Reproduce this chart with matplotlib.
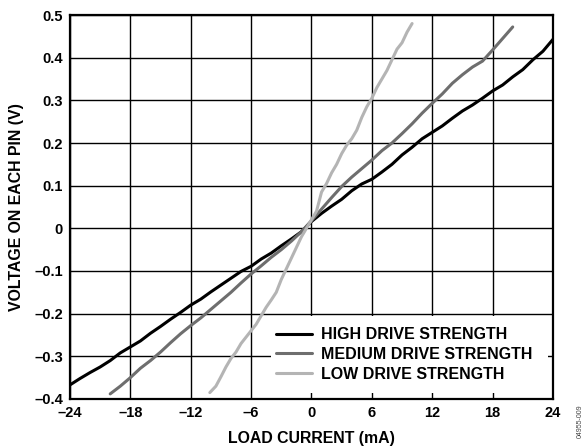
import numpy as np
import matplotlib
matplotlib.use("Agg")
import matplotlib.pyplot as plt
from matplotlib.patches import Rectangle

plt.rcParams['font.family'] = ['Liberation Sans', 'DejaVu Sans']
plt.rcParams['font.weight'] = 'bold'

# load current (mA) vs. pin voltage (V) for each drive strength
i_high = [-24, -23, -22, -21, -20, -19, -18, -17, -16, -15, -14, -13, -12, -11, -10, -9, -8, -7, -6,
          -5, -4, -3, -2, -1, 0, 1, 2, 3, 4, 5, 6, 7, 8, 9, 10, 11, 12, 13, 14, 15, 16, 17, 18,
          19, 20, 21, 22, 23, 24]
v_high = [-0.367, -0.352, -0.338, -0.325, -0.310, -0.292, -0.278, -0.264, -0.246, -0.230, -0.213,
          -0.197, -0.180, -0.166, -0.149, -0.133, -0.117, -0.101, -0.089, -0.072, -0.058, -0.041,
          -0.025, -0.008, 0.016, 0.035, 0.052, 0.068, 0.088, 0.104, 0.115, 0.132, 0.150, 0.172,
          0.190, 0.210, 0.225, 0.240, 0.258, 0.275, 0.289, 0.305, 0.322, 0.336, 0.355, 0.372,
          0.395, 0.415, 0.443]

i_med = [-20, -19, -18, -17, -16, -15, -14, -13, -12, -11, -10, -9, -8, -7, -6, -5, -4, -3, -2, -1,
         0, 1, 2, 3, 4, 5, 6, 7, 8, 9, 10, 11, 12, 13, 14, 15, 16, 17, 18, 19, 20]
v_med = [-0.388, -0.370, -0.350, -0.328, -0.310, -0.290, -0.268, -0.247, -0.228, -0.210, -0.190,
         -0.170, -0.150, -0.128, -0.107, -0.088, -0.068, -0.050, -0.030, -0.008, 0.018, 0.045,
         0.072, 0.098, 0.120, 0.140, 0.160, 0.182, 0.200, 0.222, 0.245, 0.270, 0.293, 0.315,
         0.340, 0.360, 0.378, 0.392, 0.418, 0.445, 0.472]

i_low = [-10.1, -9.5, -9, -8.5, -8, -7.5, -7, -6.5, -6, -5.5, -5, -4.5, -4, -3.5, -3, -2.5, -2,
         -1.5, -1, -0.5, 0, 0.5, 1, 1.5, 2, 2.5, 3, 3.5, 4, 4.5, 5, 5.5, 6, 6.5, 7, 7.5, 8, 8.5,
         9, 9.5, 10]
v_low = [-0.385, -0.370, -0.348, -0.325, -0.305, -0.290, -0.270, -0.255, -0.240, -0.225, -0.205,
         -0.185, -0.168, -0.150, -0.120, -0.095, -0.070, -0.045, -0.020, 0.000, 0.020, 0.040,
         0.085, 0.105, 0.130, 0.150, 0.175, 0.195, 0.210, 0.230, 0.260, 0.285, 0.305, 0.330,
         0.350, 0.370, 0.395, 0.420, 0.435, 0.460, 0.480]

labels = ['HIGH DRIVE STRENGTH', 'MEDIUM DRIVE STRENGTH', 'LOW DRIVE STRENGTH']
colors = ['#000000', '#6e6e6e', '#b4b4b4']

x_ticks = [-24, -18, -12, -6, 0, 6, 12, 18, 24]
x_ticklabels = ['–24', '–18', '–12', '–6', '0', '6', '12', '18', '24']
y_ticks = [-0.4, -0.3, -0.2, -0.1, 0, 0.1, 0.2, 0.3, 0.4, 0.5]
y_ticklabels = ['–0.4', '–0.3', '–0.2', '–0.1', '0', '0.1', '0.2', '0.3', '0.4', '0.5']

fig = plt.figure(figsize=(5.83, 4.48), dpi=100)
ax = fig.add_axes([0.120, 0.1094, 0.8285, 0.8571])

for xs, ys, lab, c in zip([i_high, i_med, i_low], [v_high, v_med, v_low], labels, colors):
    ax.plot(xs, ys, color=c, lw=2.2, label=lab, solid_capstyle='round', zorder=3)

ax.set_xlim(-24, 24)
ax.set_ylim(-0.4, 0.5)
ax.set_xticks(x_ticks)
ax.set_xticklabels(x_ticklabels)
ax.set_yticks(y_ticks)
ax.set_yticklabels(y_ticklabels)
ax.tick_params(length=0, labelsize=10.5, pad=5)
ax.grid(True, color='black', lw=1.0)
ax.set_axisbelow(True)
for s in ax.spines.values():
    s.set_linewidth(1.6)
    s.set_zorder(4)

ax.set_xlabel('LOAD CURRENT (mA)', fontsize=11.4, fontweight='bold', labelpad=8)
ax.set_ylabel('VOLTAGE ON EACH PIN (V)', fontsize=11.4, fontweight='bold', labelpad=7)

# white panel behind the legend hides the grid there
ax.add_patch(Rectangle((0.416, 0.016), 0.574, 0.2, transform=ax.transAxes,
                       facecolor='white', edgecolor='none', zorder=1))
ax.legend(loc='lower left', bbox_to_anchor=(0.416, 0.03), frameon=False,
          fontsize=11.5, handlelength=2.2, handletextpad=0.6, labelspacing=0.3,
          borderpad=0.35, borderaxespad=0)

fig.text(0.99, 0.06, '04955-009', rotation=90, fontsize=5, color='#444444',
         fontweight='normal', ha='left', va='center')

fig.savefig('out.png', dpi=100)
